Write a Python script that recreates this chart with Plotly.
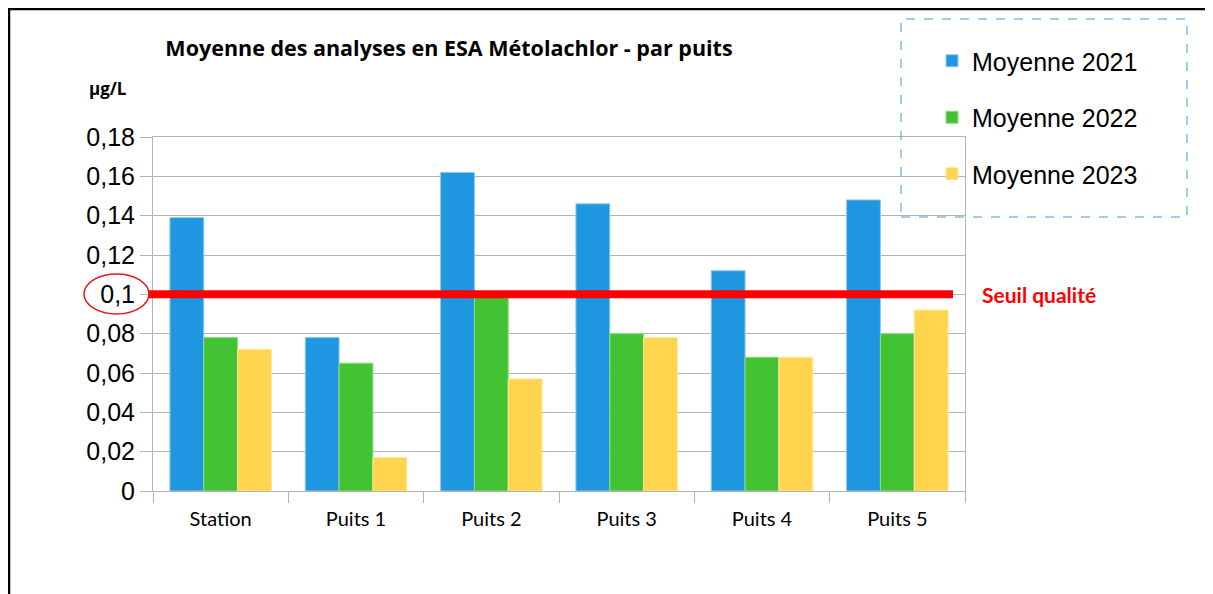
import plotly.graph_objects as go

categories = ["Station", "Puits 1", "Puits 2", "Puits 3", "Puits 4", "Puits 5"]
moy_2021 = [0.139, 0.078, 0.162, 0.146, 0.112, 0.148]
moy_2022 = [0.078, 0.065, 0.099, 0.080, 0.068, 0.080]
moy_2023 = [0.072, 0.017, 0.057, 0.078, 0.068, 0.092]
series_names = ["Moyenne 2021", "Moyenne 2022", "Moyenne 2023"]
y_tickvals = [0, 0.02, 0.04, 0.06, 0.08, 0.1, 0.12, 0.14, 0.16, 0.18]
y_ticktext = ["0", "0,02", "0,04", "0,06", "0,08", "0,1", "0,12", "0,14", "0,16", "0,18"]
seuil = 0.1

colors = ["#1F97E0", "#43C333", "#FFD54F"]
edges = ["#8CC8EE", "#8ED985", "#FFE79A"]

fig = go.Figure()
for i, (name, vals) in enumerate(zip(series_names, [moy_2021, moy_2022, moy_2023])):
    fig.add_trace(go.Bar(
        x=categories, y=vals, name=name, legendgroup=name,
        marker=dict(color=colors[i], line=dict(color=edges[i], width=1)),
    ))

OFF = 8  # page body margin
W, H = 1213 - OFF, 594 - OFF
L = 153 - OFF
R = W - (965 - OFF)
T = 137 - OFF
B = H - (491 - OFF)
pw, ph = W - L - R, H - T - B

def px(xs):
    return (xs - OFF - L) / pw

def py(ys):
    return (H - B - (ys - OFF)) / ph

grid = "#B3B3B3"
fig.update_layout(
    width=W, height=H,
    margin=dict(l=L, r=R, t=T, b=B, pad=0),
    paper_bgcolor="white", plot_bgcolor="white",
    barmode="group", bargap=0.25, bargroupgap=0,
    font=dict(family="Liberation Sans, Arial, sans-serif", color="black"),
    title=dict(
        text="<b>Moyenne des analyses en ESA Métolachlor - par puits</b>",
        x=px(449), xref="paper", xanchor="center",
        y=1 - (48 - OFF) / H, yref="container", yanchor="middle",
        font=dict(family="Open Sans, sans-serif", size=21.5, color="black"),
    ),
    legend=dict(
        x=px(932), y=py(38), xanchor="left", yanchor="top",
        font=dict(family="Liberation Sans, Arial, sans-serif", size=25),
        tracegroupgap=21, bgcolor="rgba(0,0,0,0)", borderwidth=0,
        itemwidth=30,
    ),
    showlegend=True,
)
fig.update_xaxes(
    showline=True, linecolor=grid, linewidth=1, mirror=True,
    ticks="outside", tickson="boundaries", ticklen=11, tickcolor=grid,
    tickfont=dict(family="Lato, sans-serif", size=20),
    ticklabelstandoff=10,
    showgrid=False,
)
fig.update_yaxes(
    range=[0, 0.18], tickvals=y_tickvals, ticktext=y_ticktext,
    showline=True, linecolor=grid, linewidth=1, mirror=True,
    ticks="outside", ticklen=12, tickcolor=grid,
    tickfont=dict(family="Liberation Sans, Arial, sans-serif", size=25),
    showgrid=True, gridcolor=grid, gridwidth=1, zeroline=False,
)

shapes = [
    # threshold line
    dict(type="line", xref="paper", yref="y", x0=px(149), x1=px(953), y0=seuil, y1=seuil,
         line=dict(color="#FF0000", width=8), layer="above"),
    # ellipse around 0,1
    dict(type="circle", xref="paper", yref="paper", x0=px(84), x1=px(149), y0=py(314), y1=py(274),
         line=dict(color="#E8161B", width=1.5)),
    # dashed legend box
    dict(type="rect", xref="paper", yref="paper", x0=px(901), x1=px(1187), y0=py(217), y1=py(19),
         line=dict(color="#3D9DD9", width=1, dash="dash")),
    # outer frame
    dict(type="rect", xref="paper", yref="paper", x0=px(9), x1=px(1260), y0=py(660), y1=py(9),
         line=dict(color="black", width=2.5)),
]
fig.update_layout(shapes=shapes)

fig.add_annotation(text="<b>Seuil qualité</b>", xref="paper", yref="y", x=px(980), y=seuil,
                   xanchor="left", yanchor="middle", showarrow=False,
                   font=dict(family="Lato, sans-serif", size=21, color="#FF0000"))
fig.add_annotation(text="<b>µg/L</b>", xref="paper", yref="paper", x=px(87), y=py(88),
                   xanchor="left", yanchor="middle", showarrow=False,
                   font=dict(family="Open Sans, sans-serif", size=17, color="black"))

fig.write_html("out.html")
